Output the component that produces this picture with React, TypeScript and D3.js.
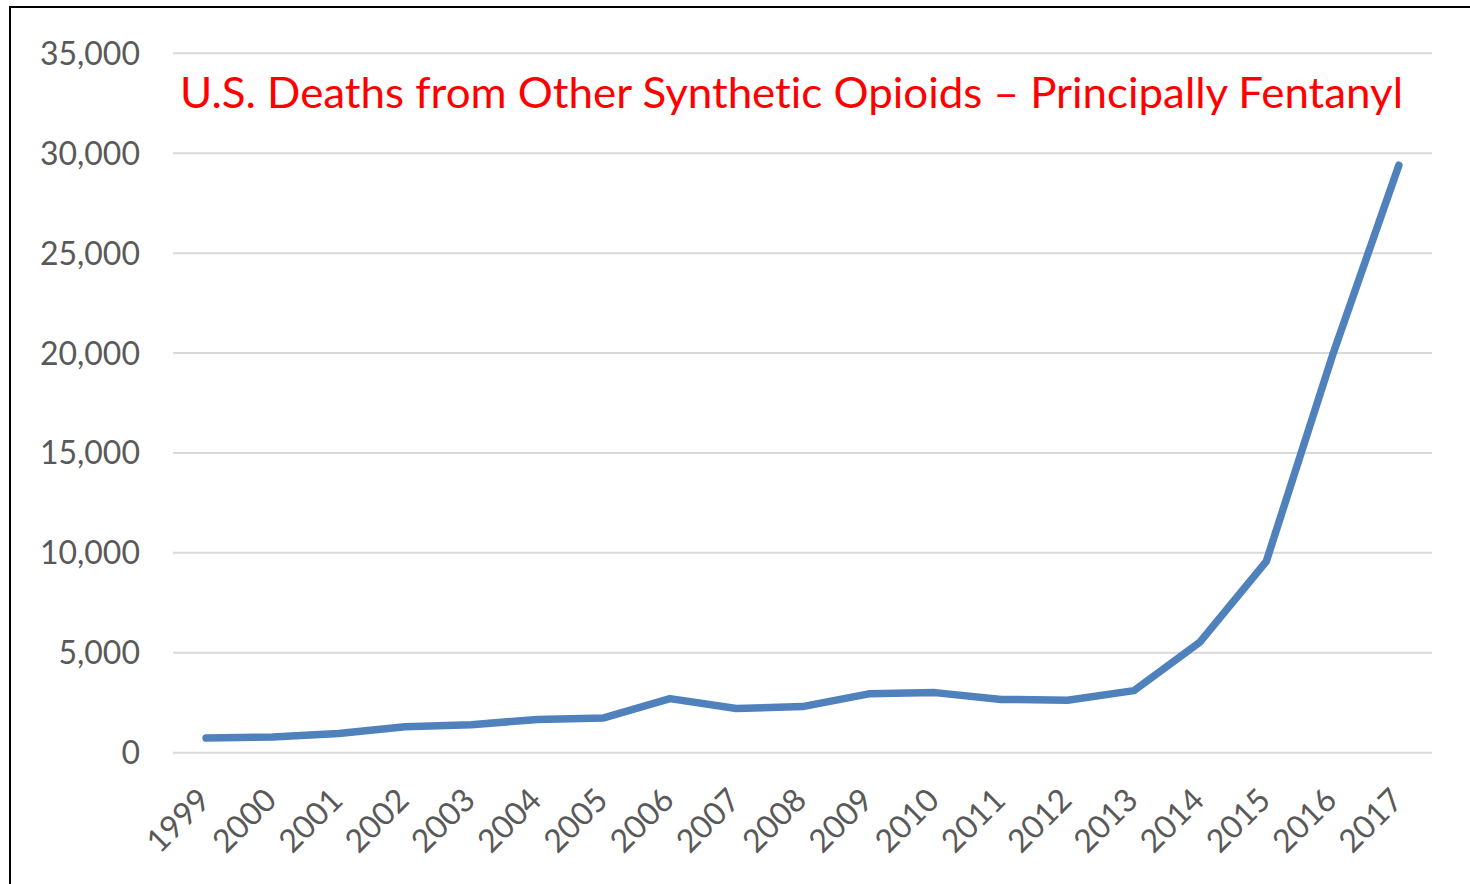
import React from 'react';
import * as d3 from 'd3';

const years = ['1999', '2000', '2001', '2002', '2003', '2004', '2005', '2006', '2007', '2008',
  '2009', '2010', '2011', '2012', '2013', '2014', '2015', '2016', '2017'];
const deaths = [730, 782, 957, 1295, 1400, 1664, 1742, 2707, 2213, 2306,
  2946, 3007, 2666, 2628, 3105, 5544, 9580, 19900, 29400];
const yTicks = [0, 5000, 10000, 15000, 20000, 25000, 30000, 35000];
const title = 'U.S. Deaths from Other Synthetic Opioids \u2013 Principally Fentanyl';

const W = 1470;
const H = 884;

const App = () => {
  const x = d3.scalePoint<string>().domain(years).range([173, 1432]).padding(0.5);
  const y = d3.scaleLinear().domain([0, 35000]).range([752.7, 53.3]);
  const fmt = d3.format(',');

  const line = d3.line<number>()
    .x((d, i) => x(years[i]) as number)
    .y(d => y(d));

  const font = 'Lato, "Open Sans", sans-serif';

  return (
    <svg width={W} height={H}
      style={{ position: 'absolute', left: 0, top: 0, display: 'block', background: '#fff' }}>
      <rect x={10} y={7} width={W + 20} height={H + 20} fill="#fff" stroke="#000" strokeWidth={2} />

      {yTicks.map(t => (
        <g key={t}>
          <line x1={173} x2={1432} y1={y(t)} y2={y(t)} stroke="#d9d9d9" strokeWidth={2} />
          <text x={140} y={y(t)} dy="0.36em" textAnchor="end" fill="#595959"
            style={{ fontFamily: font, fontSize: 32 }}>{fmt(t)}</text>
        </g>
      ))}

      {years.map(yr => (
        <text key={yr} textAnchor="end" fill="#595959"
          transform={`translate(${(x(yr) as number) + 6},802) rotate(-45)`}
          style={{ fontFamily: font, fontSize: 32 }}>{yr}</text>
      ))}

      <path d={line(deaths) || ''} fill="none" stroke="#4f81bd" strokeWidth={7.5}
        strokeLinejoin="round" strokeLinecap="round" />

      <text x={180} y={108} fill="#ff0000" textLength={1223} lengthAdjust="spacingAndGlyphs"
        style={{ fontFamily: font, fontSize: 42, fontVariantLigatures: 'none' }}>{title}</text>
    </svg>
  );
};

export default App;
